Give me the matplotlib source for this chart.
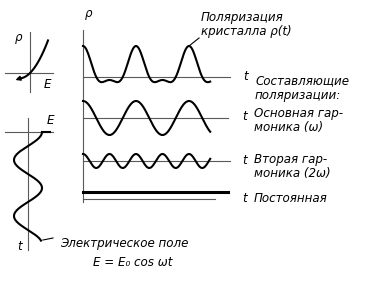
import numpy as np
import matplotlib.pyplot as plt

# harmonic content of the crystal polarisation (arbitrary units)
const_term = 7.0      # constant component
fund_amp = 17.0       # fundamental (omega)
second_amp = 7.0      # second harmonic (2 omega)
field_amp = 14.0      # E0 of the driving field
n_periods = 2.4       # how many periods are drawn on the right

labels_right = ["Основная гар-\nмоника (ω)", "Вторая гар-\nмоника (2ω)", "Постоянная"]

plt.rcParams['font.family'] = 'DejaVu Sans'
fig = plt.figure(figsize=(3.66, 2.82), dpi=100)
ax = fig.add_axes([0, 0, 1, 1])
ax.set_xlim(0, 366)
ax.set_ylim(282, 0)
ax.axis('off')

ink = 'black'
thin = dict(color='0.35', lw=0.8)
lw = 1.5
fs = 8.6
txt = dict(fontsize=fs, style='italic', color=ink, va='center')

# --- rho(E) characteristic, top left
ox, oy = 30, 73
ax.plot([ox, ox], [32, 92], **thin)
ax.plot([5, 53], [oy, oy], **thin)
E = np.linspace(-0.62, 1.0, 60)
rho_E = fund_amp * E + second_amp * 2 * E**2
ax.plot(ox + 18 * E, oy - 1.05 * rho_E, color=ink, lw=lw)
ax.annotate('', xy=(ox + 18 * E[0] - 6, oy - 1.05 * rho_E[0] + 2.5),
            xytext=(ox + 18 * E[3], oy - 1.05 * rho_E[3]),
            arrowprops=dict(arrowstyle='-|>', color=ink, lw=1.0, mutation_scale=7))
ax.text(15, 37, 'ρ', **txt)
ax.text(44, 85, 'E', **txt)

# --- field E(t), bottom left, time runs downward
tx, ty = 28, 132
ax.plot([5, 53], [ty, ty], **thin)
ax.plot([tx, tx], [118, 250], **thin)
ph = np.linspace(0, 3.88 * np.pi, 200)
ax.plot(tx + field_amp * np.cos(ph), ty + 28 * ph / np.pi, color=ink, lw=lw)
ax.plot([tx + field_amp, 50], [ty, ty], color=ink, lw=lw)
ax.plot([43, 53], [240, 238], color=ink, lw=0.8)
ax.text(47, 121, 'E', **txt)
ax.text(17, 246, 't', **txt)
ax.text(60, 243, 'Электрическое поле', ha='left', **txt)
ax.text(93, 263, 'E = E₀ cos ωt', ha='left', **txt)

# --- polarisation and its components, right
x0 = 83
period = 53
ax.plot([x0, x0], [30, 202], **thin)
ax.text(85, 13, 'ρ', **txt)
w = np.linspace(0, n_periods * 2 * np.pi, 300)
xs = x0 + w / (2 * np.pi) * period

total = const_term + fund_amp * np.cos(w) + second_amp * np.cos(2 * w)
comps = [fund_amp * np.cos(w), second_amp * np.cos(2 * w)]
base = [77, 118, 161, 199]
base_end = [230, 228, 230, 215]

ax.plot([x0, base_end[0]], [base[0]] * 2, **thin)
ax.plot(xs, base[0] - total, color=ink, lw=lw)
ax.text(243, base[0], 't', **txt)
for b, e, c in zip(base[1:3], base_end[1:3], comps):
    ax.plot([x0, e], [b, b], **thin)
    ax.plot(xs, b - c, color=ink, lw=lw)
ax.plot([x0, base_end[3]], [base[3]] * 2, **thin)
ax.plot([x0, 228], [base[3] - const_term] * 2, color=ink, lw=2.2)

for b, lab in zip(base[1:], labels_right):
    ax.text(242, b - 1, 't', **txt)
for b, lab in zip([113, 160, 199], labels_right):
    ax.text(254, b + 7 if '\n' in lab else b, lab, ha='left', linespacing=1.1, **txt)

ax.text(201, 24, 'Поляризация\nкристалла ρ(t)', ha='left', linespacing=1.1, **txt)
ax.plot([189, 199], [46, 38], color=ink, lw=0.8)
ax.text(255, 88, 'Составляющие\nполяризации:', ha='left', linespacing=1.1, **txt)

fig.savefig('out.png', dpi=100)
